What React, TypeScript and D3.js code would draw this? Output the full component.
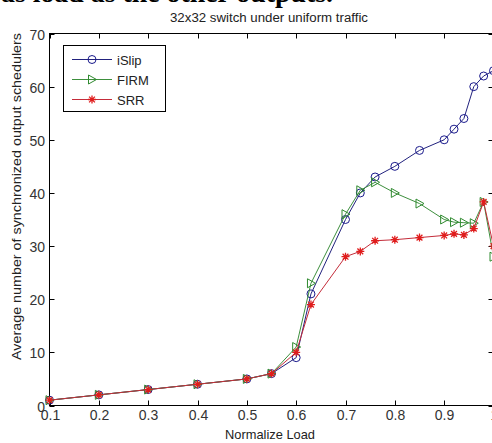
import React, {useRef, useEffect} from 'react';
import * as d3 from 'd3';

const loads = [0.1, 0.2, 0.3, 0.4, 0.5, 0.55, 0.6, 0.63, 0.7, 0.73, 0.76, 0.8, 0.85, 0.9, 0.92, 0.94, 0.96, 0.98, 1.0];
const iSlip = [1, 2, 3, 4, 5, 6, 9, 21, 35, 40, 43, 45, 48, 50, 52, 54, 60, 62, 63];
const firm = [1, 2, 3, 4, 5, 6, 11, 23, 36, 40.5, 42, 40, 38, 35, 34.5, 34.4, 34.3, 38.3, 28];
const srr = [1, 2, 3, 4, 5, 6, 10, 19, 28, 29, 31, 31.2, 31.6, 32, 32.3, 32.1, 33.3, 38.3, 30];

const xTicks = [0.1, 0.2, 0.3, 0.4, 0.5, 0.6, 0.7, 0.8, 0.9, 1];
const yTicks = [0, 10, 20, 30, 40, 50, 60, 70];
const seriesNames = ['iSlip', 'FIRM', 'SRR'];

function App() {
  const canvas = useRef<SVGSVGElement>(null);

  const width = 492;
  const height = 443;
  const left = 49.5;
  const right = 493.5;
  const top = 33.5;
  const bottom = 405.5;
  const font = '"Liberation Sans", Arial, sans-serif';

  useEffect(() => {
    const svg = d3.select(canvas.current);
    svg.selectAll('*').remove();

    const xScale = d3.scaleLinear().domain([0.1, 1]).range([left, right]);
    const yScale = d3.scaleLinear().domain([0, 70]).range([bottom, top]);

    // page text cut off above the figure
    svg.append('text')
      .attr('x', 1)
      .attr('y', 2)
      .attr('font-family', '"Liberation Serif", serif')
      .attr('font-size', 27)
      .attr('font-weight', 'bold')
      .attr('textLength', 332)
      .attr('lengthAdjust', 'spacingAndGlyphs')
      .text('as load as the other outputs.');

    svg.append('text')
      .attr('x', 170)
      .attr('y', 22)
      .attr('font-family', font)
      .attr('font-size', 12.5)
      .attr('fill', '#222')
      .attr('textLength', 198)
      .attr('lengthAdjust', 'spacingAndGlyphs')
      .text('32x32 switch under uniform traffic');

    svg.append('rect')
      .attr('x', left).attr('y', top)
      .attr('width', right - left).attr('height', bottom - top)
      .attr('fill', 'white').attr('stroke', 'black');

    const tickLen = 5;
    xTicks.forEach(t => {
      const x = Math.round(xScale(t)) + 0.5;
      svg.append('line').attr('x1', x).attr('x2', x).attr('y1', bottom).attr('y2', bottom - tickLen).attr('stroke', 'black');
      svg.append('line').attr('x1', x).attr('x2', x).attr('y1', top).attr('y2', top + tickLen).attr('stroke', 'black');
      svg.append('text')
        .attr('x', x)
        .attr('y', 420)
        .attr('text-anchor', 'middle')
        .attr('font-family', font)
        .attr('font-size', 14)
        .attr('fill', '#333')
        .text(String(t));
    });
    yTicks.forEach(t => {
      const y = Math.round(yScale(t)) + 0.5;
      svg.append('line').attr('x1', left).attr('x2', left + tickLen).attr('y1', y).attr('y2', y).attr('stroke', 'black');
      svg.append('line').attr('x1', right).attr('x2', right - tickLen).attr('y1', y).attr('y2', y).attr('stroke', 'black');
      svg.append('text')
        .attr('x', 45)
        .attr('y', y + 5)
        .attr('text-anchor', 'end')
        .attr('font-family', font)
        .attr('font-size', 14)
        .attr('fill', '#333')
        .text(String(t));
    });

    svg.append('text')
      .attr('x', 225)
      .attr('y', 439)
      .attr('font-family', font)
      .attr('font-size', 13)
      .attr('fill', '#222')
      .attr('textLength', 90)
      .attr('lengthAdjust', 'spacingAndGlyphs')
      .text('Normalize Load');

    // y label spans roughly y = 33 .. 360
    svg.append('text')
      .attr('transform', 'translate(21, 360) rotate(-90)')
      .attr('font-family', font)
      .attr('font-size', 13)
      .attr('fill', '#222')
      .attr('textLength', 327)
      .attr('lengthAdjust', 'spacingAndGlyphs')
      .text('Average number of synchronized output schedulers');

    const colours = ['#1a1a8c', '#2f8a2f', '#e01c1c'];
    const lineColours = ['#22227e', '#3d8f3d', '#c42c3a'];
    const markers = ['circle', 'triangle', 'star'];

    const drawMarker = (g: any, kind: string, x: number, y: number, c: string) => {
      if (kind === 'circle') {
        g.append('circle').attr('cx', x).attr('cy', y).attr('r', 4)
          .attr('fill', 'none').attr('stroke', c).attr('stroke-width', 1);
      } else if (kind === 'triangle') {
        g.append('path')
          .attr('d', `M${x - 3.5},${y - 4.5}L${x + 4.5},${y}L${x - 3.5},${y + 4.5}Z`)
          .attr('fill', 'none').attr('stroke', c).attr('stroke-width', 1);
      } else {
        const r = 4, d = 2.9;
        g.append('path')
          .attr('d', `M${x - r},${y}L${x + r},${y}M${x},${y - r}L${x},${y + r}M${x - d},${y - d}L${x + d},${y + d}M${x - d},${y + d}L${x + d},${y - d}`)
          .attr('stroke', c).attr('stroke-width', 1.3);
      }
    };

    const line = d3.line<number>()
      .x((d, i) => xScale(loads[i]))
      .y(d => yScale(d));

    const plot = svg.append('g');
    [iSlip, firm, srr].forEach((vals, s) => {
      plot.append('path')
        .attr('d', line(vals))
        .attr('fill', 'none')
        .attr('stroke', lineColours[s])
        .attr('stroke-width', 1);
      vals.forEach((v, i) => drawMarker(plot, markers[s], xScale(loads[i]), yScale(v), colours[s]));
    });

    // legend
    const lg = svg.append('g');
    lg.append('rect')
      .attr('x', 63.5).attr('y', 45.5).attr('width', 102).attr('height', 66)
      .attr('fill', 'white').attr('stroke', 'black');
    seriesNames.forEach((name, s) => {
      const y = 59.5 + s * 20;
      lg.append('line').attr('x1', 72).attr('x2', 112).attr('y1', y).attr('y2', y)
        .attr('stroke', lineColours[s]);
      drawMarker(lg, markers[s], 92, y, colours[s]);
      lg.append('text')
        .attr('x', 117)
        .attr('y', y + 5)
        .attr('font-family', font)
        .attr('font-size', 13)
        .attr('fill', '#222')
        .text(name);
    });
  });

  return <svg ref={canvas} width={width} height={height}
    style={{position: 'absolute', left: 0, top: 0, background: 'white'}} />;
}

export default App;
